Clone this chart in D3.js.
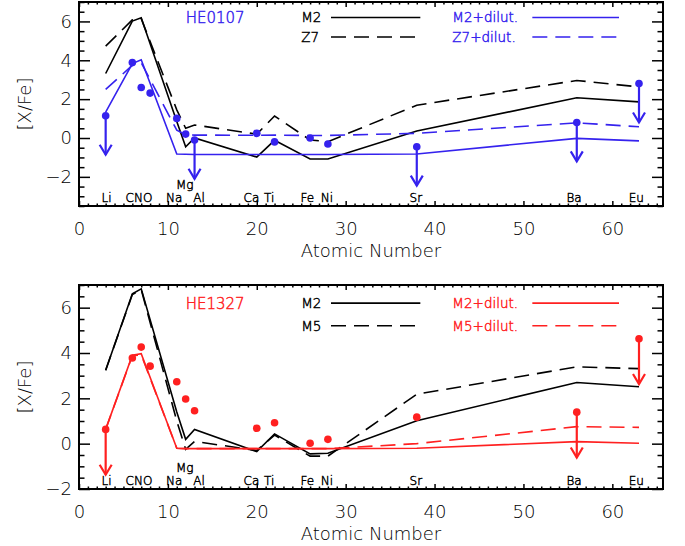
<!DOCTYPE html>
<html>
<head>
<meta charset="utf-8">
<script src="https://cdn.jsdelivr.net/npm/d3@7"></script>
<style>
  body { margin: 0; background: #fff; }
  text { font-family: "DejaVu Sans ExtraLight", "DejaVu Sans", sans-serif; font-weight: 200; }
  text.small { stroke-width: 0.45px; }
</style>
</head>
<body>
<svg id="chart" width="685" height="546"></svg>
<script>
// Atomic numbers of the model abundance grid
const zModel = [3, 6, 7, 11, 12, 13, 20, 22, 26, 28, 38, 56, 63];

// HE0107 models
const he0107M2      = [3.32, 6.02, 6.19, 0.85, -0.45, 0.00, -0.98, -0.12, -1.08, -1.08, 0.36, 2.07, 1.86];
const he0107Z7      = [4.73, 6.08, 6.14, 1.45, 0.50, 0.67, 0.20, 1.13, -0.10, -0.19, 1.69, 2.96, 2.63];
const he0107M2dil   = [1.33, 3.83, 4.03, -0.82, -0.84, -0.85, -0.85, -0.85, -0.85, -0.85, -0.82, -0.02, -0.15];
const he0107Z7dil   = [2.50, 3.74, 3.88, 0.40, 0.17, 0.15, 0.14, 0.15, 0.13, 0.13, 0.24, 0.78, 0.58];

// HE1327 models
const he1327M2      = [3.24, 6.61, 6.83, 1.40, 0.19, 0.63, -0.35, 0.43, -0.45, -0.42, 1.01, 2.70, 2.51];
const he1327M5      = [3.24, 6.58, 6.80, 1.00, -0.25, 0.10, -0.30, 0.38, -0.55, -0.55, 2.18, 3.39, 3.31];
const he1327M2dil   = [0.63, 3.90, 3.97, -0.20, -0.22, -0.22, -0.22, -0.22, -0.22, -0.22, -0.20, 0.09, 0.02];
const he1327M5dil   = [0.63, 3.88, 3.92, -0.20, -0.22, -0.22, -0.22, -0.22, -0.22, -0.22, 0.00, 0.75, 0.72];

// Observed abundances
const zObs          = [3, 6, 7, 8, 11, 12, 13, 20, 22, 26, 28, 38, 56, 63];
const he0107Obs     = [1.14, 3.88, 2.60, 2.31, 1.01, 0.20, -0.10, 0.24, -0.20, 0.00, -0.31, -0.45, 0.80, 2.80];
const he0107Upper   = [true, false, false, false, false, false, true, false, false, false, false, true, true, true];
const he1327Obs     = [0.63, 3.78, 4.26, 3.42, 2.73, 1.97, 1.45, 0.68, 0.92, 0.02, 0.19, 1.17, 1.39, 4.63];
const he1327Upper   = [true, false, false, false, false, false, false, false, false, false, false, false, true, true];

// Element labels along the bottom of each panel
const elemNames     = ["Li", "CNO", "Na", "Al", "Ca", "Ti", "Fe", "Ni", "Sr", "Ba", "Eu"];
const elemLabelZ    = [3.1, 6.75, 10.7, 13.5, 19.4, 21.4, 25.7, 27.9, 37.9, 55.7, 62.7];
const raisedName    = "Mg";
const raisedLabelZ  = 11.9;

// Axis ticks
const xMajorTicks   = [0, 10, 20, 30, 40, 50, 60];
const yMajorTicks   = [-2, 0, 2, 4, 6];

const BLUE = "#3522ee";
const RED = "#ff2020";
const LIMIT_LEN = 2;   // length of upper-limit arrows in dex

const panels = [
  { top: 2, bottom: 206, yDomain: [-3.5, 7], star: "HE0107", color: BLUE,
    models: [
      { name: "M2", vals: he0107M2, dashed: false, dil: false },
      { name: "Z7", vals: he0107Z7, dashed: true, dil: false },
      { name: "M2+dilut.", vals: he0107M2dil, dashed: false, dil: true },
      { name: "Z7+dilut.", vals: he0107Z7dil, dashed: true, dil: true }
    ],
    obs: he0107Obs, upper: he0107Upper },
  { top: 285, bottom: 489, yDomain: [-2, 7], star: "HE1327", color: RED,
    models: [
      { name: "M2", vals: he1327M2, dashed: false, dil: false },
      { name: "M5", vals: he1327M5, dashed: true, dil: false },
      { name: "M2+dilut.", vals: he1327M2dil, dashed: false, dil: true },
      { name: "M5+dilut.", vals: he1327M5dil, dashed: true, dil: true }
    ],
    obs: he1327Obs, upper: he1327Upper }
];

const svg = d3.select("#chart");
const left = 79, right = 663;
const x = d3.scaleLinear().domain([0, 65.7]).range([left, right]);
const DASH = "15,8";

function range(a, b, step) {
  const out = [];
  for (let v = a; v <= b + 1e-9; v += step) out.push(+v.toFixed(3));
  return out;
}

panels.forEach(p => {
  const y = d3.scaleLinear().domain(p.yDomain).range([p.bottom, p.top]);
  const g = svg.append("g");
  const h = p.bottom - p.top;
  const clipId = "clip-" + p.star;
  svg.append("clipPath").attr("id", clipId)
    .append("rect").attr("x", left).attr("y", p.top).attr("width", right - left).attr("height", h);

  // axes with inward ticks on all four sides
  const xMinor = range(0, 65, 1).filter(v => v % 10 !== 0);
  const yMinor = range(p.yDomain[0], p.yDomain[1], 0.5).filter(v => v % 2 !== 0);

  const axisStyle = sel => {
    sel.select(".domain").remove();
    sel.selectAll("line").attr("stroke", "#000").attr("stroke-width", 1.5);
    sel.selectAll("text").attr("fill", "#000").style("font-size", "18px");
  };

  g.append("g").attr("transform", `translate(0,${p.bottom})`)
    .call(d3.axisBottom(x).tickValues(xMajorTicks).tickSize(-5).tickPadding(16).tickFormat(d3.format("d")))
    .call(axisStyle);
  g.append("g").attr("transform", `translate(0,${p.bottom})`)
    .call(d3.axisBottom(x).tickValues(xMinor).tickSize(-2.5).tickFormat(""))
    .call(axisStyle);
  g.append("g").attr("transform", `translate(0,${p.top})`)
    .call(d3.axisTop(x).tickValues(xMajorTicks).tickSize(-5).tickFormat(""))
    .call(axisStyle);
  g.append("g").attr("transform", `translate(0,${p.top})`)
    .call(d3.axisTop(x).tickValues(xMinor).tickSize(-2.5).tickFormat(""))
    .call(axisStyle);

  g.append("g").attr("transform", `translate(${left},0)`)
    .call(d3.axisLeft(y).tickValues(yMajorTicks).tickSize(-11).tickPadding(7)
      .tickFormat(d => d < 0 ? "\u2212" + Math.abs(d) : String(d)))
    .call(axisStyle);
  g.append("g").attr("transform", `translate(${left},0)`)
    .call(d3.axisLeft(y).tickValues(yMinor).tickSize(-5.5).tickFormat(""))
    .call(axisStyle);
  g.append("g").attr("transform", `translate(${right},0)`)
    .call(d3.axisRight(y).tickValues(yMajorTicks).tickSize(-11).tickFormat(""))
    .call(axisStyle);
  g.append("g").attr("transform", `translate(${right},0)`)
    .call(d3.axisRight(y).tickValues(yMinor).tickSize(-5.5).tickFormat(""))
    .call(axisStyle);

  g.append("rect").attr("x", left).attr("y", p.top).attr("width", right - left).attr("height", h)
    .attr("fill", "none").attr("stroke", "#000").attr("stroke-width", 2);

  // axis titles
  g.append("text").attr("x", (left + right) / 2).attr("y", p.bottom + 51)
    .attr("text-anchor", "middle").style("font-size", "18px").text("Atomic Number");
  g.append("text").attr("transform", `translate(31,${(p.top + p.bottom) / 2}) rotate(-90)`)
    .attr("text-anchor", "middle").style("font-size", "18px").text("[X/Fe]");

  // element labels
  g.selectAll("text.elem").data(elemNames).enter().append("text").attr("class", "elem small")
    .attr("x", (d, i) => x(elemLabelZ[i])).attr("y", p.bottom - 4.5)
    .attr("text-anchor", "middle").attr("fill", "#000").attr("stroke", "#000")
    .style("font-size", "12px").text(d => d);
  g.append("text").attr("class", "small").attr("x", x(raisedLabelZ)).attr("y", p.bottom - 17)
    .attr("text-anchor", "middle").attr("fill", "#000").attr("stroke", "#000")
    .style("font-size", "12px").text(raisedName);

  // model curves
  const line = d3.line().x((d, i) => x(zModel[i])).y(d => y(d));
  const plot = g.append("g").attr("clip-path", `url(#${clipId})`);
  p.models.forEach(m => {
    plot.append("path").datum(m.vals).attr("d", line)
      .attr("fill", "none").attr("stroke", m.dil ? p.color : "#000")
      .attr("stroke-width", 1.6).attr("stroke-dasharray", m.dashed ? DASH : null);
  });

  // observed abundances with upper-limit arrows
  zObs.forEach((z, i) => {
    const v = p.obs[i];
    if (p.upper[i]) {
      const x0 = x(z), y0 = y(v), y1 = y(v - LIMIT_LEN);
      plot.append("line").attr("x1", x0).attr("x2", x0).attr("y1", y0).attr("y2", y1)
        .attr("stroke", p.color).attr("stroke-width", 2.2);
      plot.append("path").attr("d", `M${x0 - 6},${y1 - 10}L${x0},${y1}L${x0 + 6},${y1 - 10}`)
        .attr("fill", "none").attr("stroke", p.color).attr("stroke-width", 2.2);
    }
  });
  plot.selectAll("circle.obs").data(p.obs).enter().append("circle").attr("class", "obs")
    .attr("cx", (d, i) => x(zObs[i])).attr("cy", d => y(d)).attr("r", 3.8).attr("fill", p.color);

  // star name and legend
  const rowY = [6.2, 5.2];
  g.append("text").attr("class", "small").attr("x", x(12)).attr("y", y(rowY[0])).attr("dy", "0.36em")
    .attr("fill", p.color).attr("stroke", p.color).style("font-size", "15px").text(p.star);
  p.models.forEach((m, i) => {
    const row = i % 2;
    const tx = m.dil ? 42 : 25;
    const lx0 = m.dil ? 51 : 28.35;
    const lx1 = m.dil ? 60.75 : 38.4;
    const col = m.dil ? p.color : "#000";
    g.append("text").attr("class", "small").attr("x", x(tx)).attr("y", y(rowY[row])).attr("dy", "0.36em")
      .attr("fill", col).attr("stroke", col).style("font-size", "13.5px").text(m.name);
    g.append("line").attr("x1", x(lx0)).attr("x2", x(lx1))
      .attr("y1", y(rowY[row])).attr("y2", y(rowY[row]))
      .attr("stroke", col).attr("stroke-width", 1.6).attr("stroke-dasharray", m.dashed ? DASH : null);
  });
});
</script>
</body>
</html>
